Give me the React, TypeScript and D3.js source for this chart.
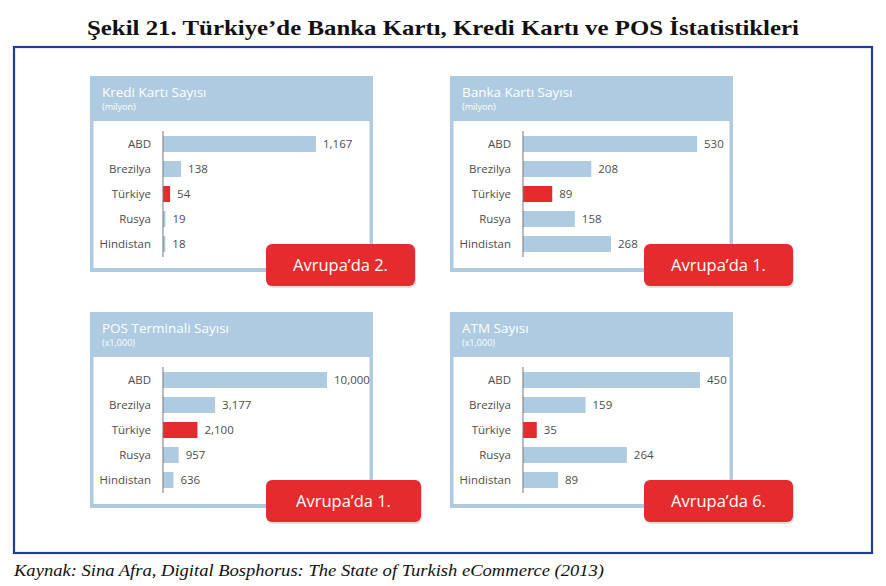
import React from "react";
import * as d3 from "d3";

const countries = ["ABD", "Brezilya", "Türkiye", "Rusya", "Hindistan"];
const highlight = "Türkiye";

const krediValues = [1167, 138, 54, 19, 18];
const bankaValues = [530, 208, 89, 158, 268];
const posValues = [10000, 3177, 2100, 957, 636];
const atmValues = [450, 159, 35, 264, 89];

const panelTitles = ["Kredi Kartı Sayısı", "Banka Kartı Sayısı", "POS Terminali Sayısı", "ATM Sayısı"];
const panelUnits = ["(milyon)", "(milyon)", "(x1,000)", "(x1,000)"];
const badgeTexts = ["Avrupa’da 2.", "Avrupa’da 1.", "Avrupa’da 1.", "Avrupa’da 6."];

const title = "Şekil 21. Türkiye’de Banka Kartı, Kredi Kartı ve POS İstatistikleri";
const source = "Kaynak: Sina Afra, Digital Bosphorus: The State of Turkish eCommerce (2013)";

const LIGHT = "#aecbe1";
const RED = "#e52b2d";
const TEXT = "#4d4d4d";
const FONT = "'Open Sans', 'Noto Sans', sans-serif";

type PanelDef = {
  x: number; y: number; values: number[]; title: string; unit: string; badge: string;
  barMax: number; badgeX: number; badgeW: number;
};

const panels: PanelDef[] = [
  { x: 90, y: 76, values: krediValues, title: panelTitles[0], unit: panelUnits[0], badge: badgeTexts[0], barMax: 153, badgeX: 176, badgeW: 149 },
  { x: 450, y: 76, values: bankaValues, title: panelTitles[1], unit: panelUnits[1], badge: badgeTexts[1], barMax: 174, badgeX: 194, badgeW: 149 },
  { x: 90, y: 312, values: posValues, title: panelTitles[2], unit: panelUnits[2], badge: badgeTexts[2], barMax: 164, badgeX: 176, badgeW: 155 },
  { x: 450, y: 312, values: atmValues, title: panelTitles[3], unit: panelUnits[3], badge: badgeTexts[3], barMax: 177, badgeX: 194, badgeW: 149 },
];

const fmt = d3.format(",");

function Panel({ p }: { p: PanelDef }) {
  const W = 283;
  const H = 196;
  const axisX = 73;
  const x = d3.scaleLinear().domain([0, d3.max(p.values) as number]).range([0, p.barMax]);
  const y = d3.scalePoint<string>().domain(countries).range([68, 168]);
  const bh = 16;
  return (
    <g transform={`translate(${p.x},${p.y})`}>
      <rect x={0} y={0} width={W} height={H} fill={LIGHT} />
      <rect x={3.5} y={45} width={W - 7} height={H - 49} fill="#fff" />
      <text x={12} y={21} fill="#fff" fontFamily={FONT} fontSize={13.5}>{p.title}</text>
      <text x={12} y={34} fill="#fff" fontFamily={FONT} fontSize={9}>{p.unit}</text>
      {countries.map((c, i) => {
        const cy = y(c) as number;
        const w = x(p.values[i]);
        return (
          <g key={c}>
            <text x={61} y={cy} dy="0.35em" textAnchor="end" fill={TEXT} fontFamily={FONT} fontSize={11.5}>{c}</text>
            <rect x={axisX} y={cy - bh / 2} width={w} height={bh} fill={c === highlight ? RED : LIGHT} />
            <text x={axisX + w + 7} y={cy} dy="0.35em" fill={TEXT} fontFamily={FONT} fontSize={11.5}>{fmt(p.values[i])}</text>
          </g>
        );
      })}
      <line x1={axisX} x2={axisX} y1={55} y2={181} stroke="#777" strokeWidth={1} />
      <rect x={p.badgeX + 1} y={170} width={p.badgeW} height={42} rx={6} fill="#000" opacity={0.12} />
      <rect x={p.badgeX} y={168} width={p.badgeW} height={42} rx={6} fill={RED} />
      <text x={p.badgeX + p.badgeW / 2} y={189} dy="0.35em" textAnchor="middle" fill="#fff" fontFamily={FONT} fontSize={16.5}>{p.badge}</text>
    </g>
  );
}

export default function App() {
  return (
    <svg width={886} height={586} style={{ position: "absolute", left: 0, top: 0 }}>
      <rect width={886} height={586} fill="#fff" />
      <text x={443} y={35} textAnchor="middle" fontFamily="'Liberation Serif', 'DejaVu Serif', serif" fontWeight="bold" fontSize={22} textLength={712} lengthAdjust="spacingAndGlyphs" fill="#111">{title}</text>
      <rect x={14} y={47} width={858} height={506} fill="none" stroke="#1f3d92" strokeWidth={2.2} />
      {panels.map((p, i) => <Panel key={i} p={p} />)}
      <text x={14} y={576} fontFamily="'Liberation Serif', serif" fontStyle="italic" fontSize={16} textLength={590} lengthAdjust="spacingAndGlyphs" fill="#111">{source}</text>
    </svg>
  );
}
